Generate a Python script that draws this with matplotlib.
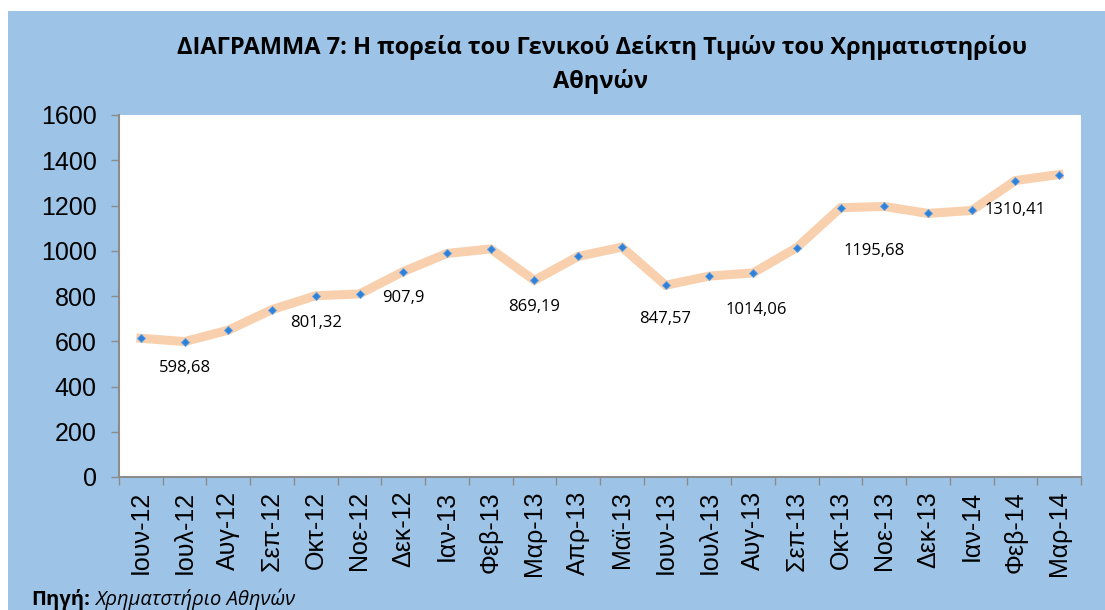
import matplotlib.pyplot as plt
from matplotlib.patches import Rectangle

months = ["Ιουν-12", "Ιουλ-12", "Αυγ-12", "Σεπ-12", "Οκτ-12", "Νοε-12", "Δεκ-12",
          "Ιαν-13", "Φεβ-13", "Μαρ-13", "Απρ-13", "Μαϊ-13", "Ιουν-13", "Ιουλ-13",
          "Αυγ-13", "Σεπ-13", "Οκτ-13", "Νοε-13", "Δεκ-13", "Ιαν-14", "Φεβ-14", "Μαρ-14"]
index_values = [613, 598.68, 649, 740, 801.32, 809, 907.9, 988, 1008, 869.19, 975,
                1016, 847.57, 888, 902, 1014.06, 1190, 1195.68, 1165, 1178, 1310.41, 1337]

# data labels shown on the chart: (position in months, text)
label_points = [1, 4, 6, 9, 12, 14, 17, 20]
label_texts = ["598,68", "801,32", "907,9", "869,19", "847,57", "1014,06", "1195,68", "1310,41"]
label_offsets = [(0, -19), (0, -20), (0, -19), (0, -19), (0, -24), (2, -27), (-7, -32), (0, -21)]

bg = "#9DC3E6"
fig = plt.figure(figsize=(11.05, 6.10), dpi=100)
fig.patches.append(Rectangle((8 / 1105, 0), 1, 1 - 11 / 610, transform=fig.transFigure,
                             facecolor=bg, edgecolor="none", zorder=-10))

ax = fig.add_axes([119 / 1105, 1 - 477 / 610, (1081 - 119) / 1105, (477 - 115) / 610])
ax.set_facecolor("white")

x = list(range(len(months)))
ax.plot(x, index_values, color="#F9D0AD", linewidth=6.5, solid_joinstyle="miter", zorder=2)
ax.plot(x, index_values, linestyle="none", marker="D", markersize=4.5,
        markerfacecolor="#2F80D8", markeredgecolor="#5AA0E8", markeredgewidth=0.6, zorder=3)

for i, txt, off in zip(label_points, label_texts, label_offsets):
    ax.annotate(txt, (i, index_values[i]), xytext=off, textcoords="offset points",
                ha="center", va="center", fontsize=12, family="Open Sans", color="black")

ax.set_xlim(-0.5, len(months) - 0.5)
ax.set_ylim(0, 1600)
ax.set_yticks(range(0, 1601, 200))
ax.tick_params(axis="y", labelsize=18, length=6, color="#8C8C8C", width=1, pad=10)
for lab in ax.get_yticklabels():
    lab.set_family("Liberation Sans")

ax.set_xticks(x)
ax.set_xticklabels(months, rotation=90, fontsize=18, family="Liberation Sans")
ax.set_xticks([i - 0.5 for i in range(len(months) + 1)], minor=True)
ax.tick_params(axis="x", which="major", length=0, pad=10)
ax.tick_params(axis="x", which="minor", length=6, color="#8C8C8C", width=1)

for side in ["top", "right"]:
    ax.spines[side].set_visible(False)
for side in ["left", "bottom"]:
    ax.spines[side].set_color("#8C8C8C")
    ax.spines[side].set_linewidth(1.5)

fig.text(0.545, 1 - 47 / 610, "ΔΙΑΓΡΑΜΜΑ 7: Η πορεία του Γενικού Δείκτη Τιμών του Χρηματιστηρίου",
         ha="center", va="center", fontsize=17, fontweight="bold", family="Open Sans")
fig.text(0.543, 1 - 82 / 610, "Αθηνών",
         ha="center", va="center", fontsize=17, fontweight="bold", family="Open Sans")

t1 = fig.text(31 / 1105, 1 - 599 / 610, "Πηγή:", ha="left", va="center",
              fontsize=14.5, fontweight="bold", family="Open Sans")
fig.canvas.draw()
bb = t1.get_window_extent()
fig.text((bb.x1 + 5) / 1105, 1 - 599 / 610, "Χρηματστήριο Αθηνών", ha="left", va="center",
         fontsize=14.5, style="italic", family="Open Sans")

fig.savefig("out.png", dpi=100)
